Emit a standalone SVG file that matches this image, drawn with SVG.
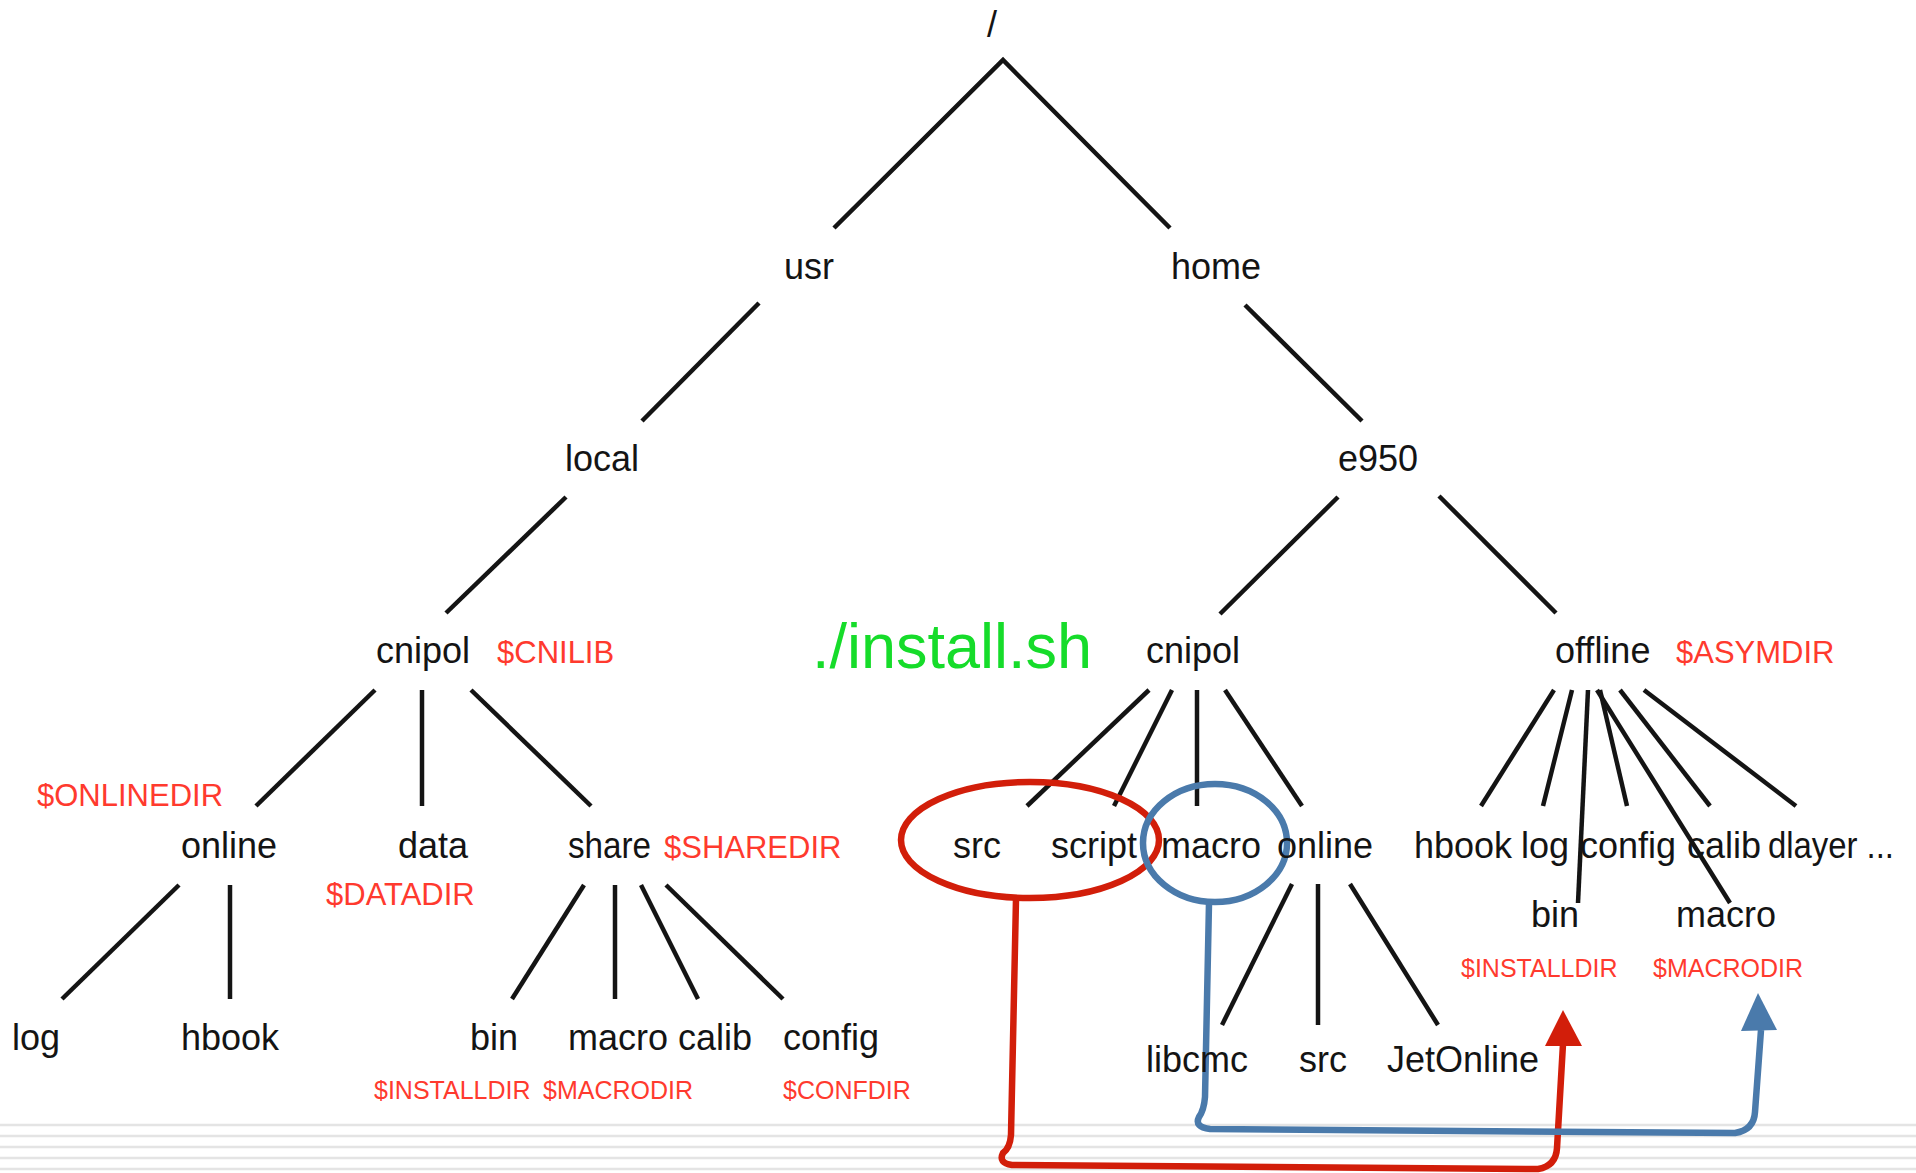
<svg xmlns="http://www.w3.org/2000/svg" width="1916" height="1173" viewBox="0 0 1916 1173">
<style>
.n{font-family:"Liberation Sans",Arial,sans-serif;font-size:36px;fill:#141414}
.v{font-family:"Liberation Sans",Arial,sans-serif;font-size:31px;fill:#ff3a2e}
.s{font-family:"Liberation Sans",Arial,sans-serif;font-size:25px;fill:#ff3a2e}
.g{font-family:"Liberation Sans",Arial,sans-serif;font-size:63px;fill:#16dc2a}
.e{fill:none;stroke:#141414;stroke-width:4.5}
.bg{stroke:#e4e4e4;stroke-width:2.5}
</style>
<rect width="1916" height="1173" fill="#fff"/>
<g id="background">
<line class="bg" x1="0" y1="1125" x2="1916" y2="1125"/>
<line class="bg" x1="0" y1="1136" x2="1916" y2="1136"/>
<line class="bg" x1="0" y1="1147" x2="1916" y2="1147"/>
<line class="bg" x1="0" y1="1158" x2="1916" y2="1158"/>
<line class="bg" x1="0" y1="1169" x2="1916" y2="1169"/>
</g>
<g id="connectors">
<polyline class="e" points="834,228 1003,60 1170,228"/>
<line class="e" x1="759" y1="303" x2="642" y2="421"/>
<line class="e" x1="1245" y1="305" x2="1362" y2="421"/>
<line class="e" x1="566" y1="497" x2="446" y2="613"/>
<line class="e" x1="1338" y1="497" x2="1220" y2="614"/>
<line class="e" x1="1439" y1="496" x2="1556" y2="613"/>
<line class="e" x1="375" y1="690" x2="256" y2="806"/>
<line class="e" x1="422" y1="690" x2="422" y2="806"/>
<line class="e" x1="471" y1="690" x2="591" y2="806"/>
<line class="e" x1="179" y1="885" x2="62" y2="999"/>
<line class="e" x1="230" y1="885" x2="230" y2="999"/>
<line class="e" x1="584" y1="885" x2="512" y2="999"/>
<line class="e" x1="615" y1="885" x2="615" y2="999"/>
<line class="e" x1="641" y1="885" x2="698" y2="999"/>
<line class="e" x1="666" y1="885" x2="783" y2="999"/>
<line class="e" x1="1149" y1="690" x2="1027" y2="806"/>
<line class="e" x1="1172" y1="690" x2="1114" y2="806"/>
<line class="e" x1="1197" y1="690" x2="1197" y2="806"/>
<line class="e" x1="1225" y1="690" x2="1302" y2="806"/>
<line class="e" x1="1292" y1="884" x2="1222" y2="1025"/>
<line class="e" x1="1318" y1="884" x2="1318" y2="1025"/>
<line class="e" x1="1350" y1="884" x2="1438" y2="1025"/>
<line class="e" x1="1554" y1="690" x2="1481" y2="806"/>
<line class="e" x1="1572" y1="690" x2="1543" y2="806"/>
<line class="e" x1="1588" y1="690" x2="1578" y2="903"/>
<line class="e" x1="1600" y1="690" x2="1627" y2="806"/>
<line class="e" x1="1597" y1="690" x2="1730" y2="903"/>
<line class="e" x1="1620" y1="690" x2="1710" y2="806"/>
<line class="e" x1="1644" y1="690" x2="1796" y2="806"/>
</g>
<g id="highlights">
<ellipse cx="1030" cy="840" rx="129" ry="58" fill="none" stroke="#d21e0a" stroke-width="6.5"/>
<ellipse cx="1215" cy="843" rx="72" ry="59" fill="none" stroke="#4a7aab" stroke-width="6.5"/>
<path d="M1016,899 L1011,1135 Q1010,1148 1003,1153 Q998,1163 1012,1165 L1538,1169 Q1556,1166 1557,1148 L1563,1044" fill="none" stroke="#d21e0a" stroke-width="6.5" stroke-linejoin="round"/>
<polygon points="1563,1010 1545,1046 1582,1046" fill="#d21e0a"/>
<path d="M1209,903 L1205,1097 Q1204,1110 1199,1117 Q1194,1127 1210,1129 L1735,1133 Q1754,1130 1755,1112 L1761,1030" fill="none" stroke="#4a7aab" stroke-width="6.5" stroke-linejoin="round"/>
<polygon points="1758,993 1741,1031 1777,1030" fill="#4a7aab"/>
</g>
<g id="root"><text class="n" x="992" y="37" text-anchor="middle">/</text></g>
<g id="usr"><text class="n" x="809" y="279" text-anchor="middle">usr</text></g>
<g id="home"><text class="n" x="1216" y="279" text-anchor="middle">home</text></g>
<g id="local"><text class="n" x="602" y="471" text-anchor="middle">local</text></g>
<g id="e950"><text class="n" x="1378" y="471" text-anchor="middle">e950</text></g>
<g id="cnipol-usr"><text class="n" x="376" y="663">cnipol</text><text class="v" x="497" y="663">$CNILIB</text></g>
<g id="install"><text class="g" x="812" y="668">./install.sh</text></g>
<g id="cnipol-home"><text class="n" x="1146" y="663">cnipol</text></g>
<g id="offline"><text class="n" x="1555" y="663">offline</text><text class="v" x="1676" y="663" font-size="32">$ASYMDIR</text></g>
<g id="online-usr"><text class="v" x="37" y="806">$ONLINEDIR</text><text class="n" x="181" y="858">online</text></g>
<g id="data"><text class="n" x="398" y="858">data</text><text class="v" x="326" y="905">$DATADIR</text></g>
<g id="share"><text class="n" x="568" y="858" textLength="83" lengthAdjust="spacingAndGlyphs">share</text><text class="v" x="664" y="858">$SHAREDIR</text></g>
<g id="log-usr"><text class="n" x="12" y="1050">log</text></g>
<g id="hbook-usr"><text class="n" x="181" y="1050">hbook</text></g>
<g id="bin-usr"><text class="n" x="470" y="1050">bin</text><text class="s" x="374" y="1099">$INSTALLDIR</text></g>
<g id="macro-usr"><text class="n" x="568" y="1050">macro</text><text class="s" x="543" y="1099">$MACRODIR</text></g>
<g id="calib-usr"><text class="n" x="678" y="1050">calib</text></g>
<g id="config-usr"><text class="n" x="783" y="1050">config</text><text class="s" x="783" y="1099">$CONFDIR</text></g>
<g id="src"><text class="n" x="953" y="858">src</text></g>
<g id="script"><text class="n" x="1051" y="858">script</text></g>
<g id="macro-home"><text class="n" x="1161" y="858">macro</text></g>
<g id="online-home"><text class="n" x="1277" y="858">online</text></g>
<g id="libcmc"><text class="n" x="1146" y="1072">libcmc</text></g>
<g id="src-online"><text class="n" x="1299" y="1072">src</text></g>
<g id="jetonline"><text class="n" x="1387" y="1072">JetOnline</text></g>
<g id="hbook-off"><text class="n" x="1414" y="858">hbook</text></g>
<g id="log-off"><text class="n" x="1521" y="858">log</text></g>
<g id="config-off"><text class="n" x="1580" y="858">config</text></g>
<g id="calib-off"><text class="n" x="1687" y="858">calib</text></g>
<g id="dlayer"><text class="n" x="1768" y="858" textLength="126" lengthAdjust="spacingAndGlyphs">dlayer ...</text></g>
<g id="bin-off"><text class="n" x="1531" y="927">bin</text><text class="s" x="1461" y="977">$INSTALLDIR</text></g>
<g id="macro-off"><text class="n" x="1676" y="927">macro</text><text class="s" x="1653" y="977">$MACRODIR</text></g>
</svg>
